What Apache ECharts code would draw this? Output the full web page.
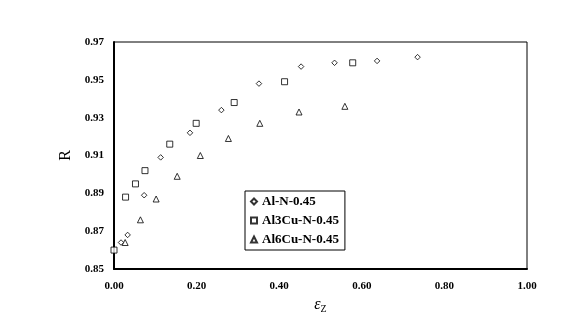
<!DOCTYPE html>
<html>
<head>
<meta charset="utf-8">
<script src="https://cdn.jsdelivr.net/npm/echarts@6/dist/echarts.min.js"></script>
<style>
html,body{margin:0;padding:0;background:#fff;}
#chart{width:574px;height:330px;}
</style>
</head>
<body>
<div id="chart"></div>
<script>
// series data [strain, R]
var alN = [[0.017,0.864],[0.033,0.868],[0.073,0.889],[0.113,0.909],[0.184,0.922],[0.260,0.934],[0.351,0.948],[0.453,0.957],[0.534,0.959],[0.637,0.960],[0.735,0.962]];
var al3Cu = [[0.000,0.860],[0.028,0.888],[0.052,0.895],[0.075,0.902],[0.135,0.916],[0.199,0.927],[0.291,0.938],[0.413,0.949],[0.578,0.959]];
var al6Cu = [[0.027,0.864],[0.064,0.876],[0.102,0.887],[0.153,0.899],[0.209,0.910],[0.277,0.919],[0.353,0.927],[0.448,0.933],[0.559,0.936]];
var names = ['Al-N-0.45','Al3Cu-N-0.45','Al6Cu-N-0.45'];

var font = '"Liberation Serif", "Times New Roman", serif';
var myChart = echarts.init(document.getElementById('chart'));

function ser(name, data, sym, size){
  return {
    name: name, type: 'scatter', data: data,
    symbol: sym, symbolSize: size,
    itemStyle: {color: '#fff', borderColor: '#000', borderWidth: 1}
  };
}

var option = {
  animation: false,
  grid: {left: 114, right: 47, top: 42, bottom: 61, show: true, borderColor: '#000', borderWidth: 1},
  legend: {
    orient: 'vertical', left: 245, top: 191,
    data: names,
    backgroundColor: '#fff',
    borderColor: '#000', borderWidth: 1,
    padding: [4, 6, 4, 5],
    itemGap: 6, itemWidth: 6, itemHeight: 6,
    textStyle: {fontFamily: font, fontWeight: 'bold', fontSize: 13, color: '#000', padding: [0,0,0,0]}
  },
  xAxis: {
    type: 'value', min: 0, max: 1, interval: 0.2,
    splitLine: {show: false},
    axisTick: {show: false},
    axisLine: {lineStyle: {color: '#000', width: 2}},
    axisLabel: {color: '#000', fontFamily: font, fontWeight: 'bold', fontSize: 11, margin: 12,
      formatter: function(v){ return v.toFixed(2); }},
    name: '{e|ε}{s|Z}', nameLocation: 'middle', nameGap: 25,
    nameTextStyle: {
      rich: {
        e: {fontFamily: font, fontStyle: 'italic', fontSize: 16, color: '#000'},
        s: {fontFamily: font, fontSize: 10, color: '#000', padding: [8,0,0,0]}
      }
    }
  },
  yAxis: {
    type: 'value', min: 0.85, max: 0.97, interval: 0.02,
    splitLine: {show: false},
    axisTick: {show: false},
    axisLine: {lineStyle: {color: '#000', width: 2}},
    axisLabel: {color: '#000', fontFamily: font, fontWeight: 'bold', fontSize: 11, margin: 10,
      formatter: function(v){ return v.toFixed(2); }},
    name: 'R', nameLocation: 'middle', nameGap: 40, nameRotate: 90,
    nameTextStyle: {fontFamily: font, fontSize: 16, color: '#000'}
  },
  series: [
    ser(names[0], alN, 'diamond', 5.5),
    ser(names[1], al3Cu, 'rect', 6),
    ser(names[2], al6Cu, 'triangle', 6)
  ]
};
myChart.setOption(option);
</script>
</body>
</html>
